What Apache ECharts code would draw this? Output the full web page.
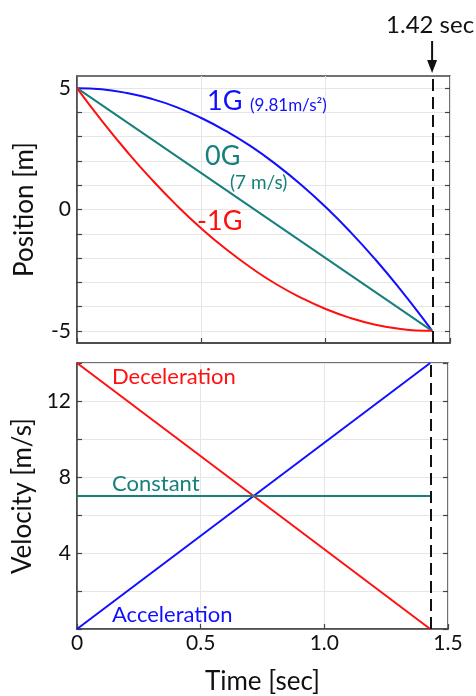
<!DOCTYPE html>
<html>
<head>
<meta charset="utf-8">
<script src="https://cdn.jsdelivr.net/npm/echarts@6/dist/echarts.min.js"></script>
<style>
  html, body { margin: 0; padding: 0; background: #fff; }
  #chart { width: 476px; height: 696px; }
</style>
</head>
<body>
<div id="chart"></div>
<script>
// time samples
const timeSteps = [0, 0.1, 0.2, 0.3, 0.4, 0.5, 0.6, 0.7, 0.8, 0.9, 1.0, 1.1, 1.2, 1.3, 1.4, 1.428];
const pos1G = [5, 4.95, 4.8, 4.56, 4.22, 3.77, 3.23, 2.6, 1.86, 1.03, 0.1, -0.93, -2.06, -3.29, -4.61, -5];
const posMinus1G = [5, 3.65, 2.4, 1.24, 0.18, -0.78, -1.64, -2.4, -3.07, -3.63, -4.1, -4.47, -4.75, -4.92, -5, -5];
const lineTimes = [0, 1.428];
const pos0G = [5, -5];
const velAccel = [0, 14];
const velDecel = [14, 0];
const velConst = [7, 7];
const tEnd = 1.428;
const xTicks = [0, 0.5, 1.0, 1.5];
const posTicks = [-5, -4, -3, -2, -1, 0, 1, 2, 3, 4, 5];
const posLabels = [-5, 0, 5];
const velTicks = [0, 2, 4, 6, 8, 10, 12, 14];
const velLabels = [4, 8, 12];

const BLUE = '#1010ff', RED = '#ff1010', TEAL = '#17807e';
const FONT = 'Lato';

function pairs(xs, ys) {
    return xs.map((x, i) => [x, ys[i]]);
}

const myChart = echarts.init(document.getElementById('chart'));

const boxStyle = { show: true, borderColor: '#444', borderWidth: 1.5, backgroundColor: 'transparent' };
const gridLine = { show: true, lineStyle: { color: '#e6e6e6', width: 1 } };
function tickIn(values) {
    return { show: true, inside: true, length: 5, customValues: values, lineStyle: { color: '#444', width: 1.2 } };
}

function yAxisPair(gridIndex, min, max, ticks, labels, name) {
    return [{
        type: 'value', gridIndex: gridIndex, min: min, max: max,
        position: 'left',
        axisLine: { show: true, onZero: false, lineStyle: { color: '#444', width: 1.5 } },
        axisTick: tickIn(ticks),
        splitLine: gridLine,
        axisLabel: {
            customValues: labels,
            fontFamily: FONT, fontSize: 21, color: '#111', margin: 6
        },
        name: name, nameLocation: 'middle', nameGap: 39, nameRotate: 90,
        nameTextStyle: { fontFamily: FONT, fontSize: 26, color: '#111' }
    }, {
        type: 'value', gridIndex: gridIndex, min: min, max: max,
        position: 'right',
        axisLine: { show: false, onZero: false },
        axisTick: tickIn(ticks),
        splitLine: { show: false },
        axisLabel: { show: false }
    }];
}

const dashMark = {
    silent: true,
    symbol: 'none',
    label: { show: false },
    lineStyle: { color: '#111', width: 2, type: [12, 6] },
    data: [{ xAxis: tEnd }]
};

myChart.setOption({
    animation: false,
    grid: [
        Object.assign({ left: 77, top: 76, width: 373, height: 267 }, boxStyle),
        Object.assign({ left: 77, top: 363, width: 371, height: 267 }, boxStyle)
    ],
    xAxis: [
        {
            type: 'value', gridIndex: 0, min: 0, max: 1.5, interval: 0.5,
            axisLine: { show: true, onZero: false, lineStyle: { color: '#444', width: 1.5 } },
            axisTick: tickIn(xTicks), splitLine: gridLine, axisLabel: { show: false }
        },
        {
            type: 'value', gridIndex: 1, min: 0, max: 1.5, interval: 0.5,
            axisLine: { show: true, onZero: false, lineStyle: { color: '#444', width: 1.5 } },
            axisTick: tickIn(xTicks), splitLine: gridLine,
            axisLabel: {
                fontFamily: FONT, fontSize: 21, color: '#111', margin: 4,
                formatter: v => v === 0 ? '0' : v.toFixed(1)
            },
            name: 'Time [sec]', nameLocation: 'middle', nameGap: 40,
            nameTextStyle: { fontFamily: FONT, fontSize: 26, color: '#111' }
        }
    ],
    yAxis: [].concat(
        yAxisPair(0, -5.5, 5.5, posTicks, posLabels, 'Position [m]'),
        yAxisPair(1, 0, 14, velTicks, velLabels, 'Velocity [m/s]')
    ),
    series: [
        { type: 'line', name: '1G', xAxisIndex: 0, yAxisIndex: 0, data: pairs(timeSteps, pos1G),
          smooth: true, showSymbol: false, lineStyle: { color: BLUE, width: 2 } },
        { type: 'line', name: '0G', xAxisIndex: 0, yAxisIndex: 0, data: pairs(lineTimes, pos0G),
          showSymbol: false, lineStyle: { color: TEAL, width: 2 } },
        { type: 'line', name: '-1G', xAxisIndex: 0, yAxisIndex: 0, data: pairs(timeSteps, posMinus1G),
          smooth: true, showSymbol: false, lineStyle: { color: RED, width: 2 }, markLine: dashMark },
        { type: 'line', name: 'Acceleration', xAxisIndex: 1, yAxisIndex: 2, data: pairs(lineTimes, velAccel),
          showSymbol: false, lineStyle: { color: BLUE, width: 2 } },
        { type: 'line', name: 'Deceleration', xAxisIndex: 1, yAxisIndex: 2, data: pairs(lineTimes, velDecel),
          showSymbol: false, lineStyle: { color: RED, width: 2 } },
        { type: 'line', name: 'Constant', xAxisIndex: 1, yAxisIndex: 2, data: pairs(lineTimes, velConst),
          showSymbol: false, lineStyle: { color: TEAL, width: 2 }, markLine: dashMark }
    ]
});

// annotations, placed from the axis scales
const endX = myChart.convertToPixel({ xAxisIndex: 0 }, tEnd);
function txt(x, y, text, color, size, align) {
    return { type: 'text', x: x, y: y, z: 10,
        style: { text: text, fill: color, font: size + 'px ' + FONT, textAlign: align || 'left', textVerticalAlign: 'middle' } };
}
myChart.setOption({
    graphic: [
        txt(207, 101, '1G', BLUE, 27),
        txt(250, 106, '(9.81m/s²)', BLUE, 17),
        txt(205, 156, '0G', TEAL, 27),
        txt(230, 183, '(7 m/s)', TEAL, 19),
        txt(197, 221, '-1G', RED, 27),
        txt(112, 377, 'Deceleration', RED, 22),
        txt(112, 484, 'Constant', TEAL, 22),
        txt(112, 615, 'Acceleration', BLUE, 22),
        txt(endX - 2, 25, '1.42 sec', '#111', 24, 'center'),
        { type: 'line', z: 10, shape: { x1: endX, y1: 41, x2: endX, y2: 62 }, style: { stroke: '#111', lineWidth: 2 } },
        { type: 'polygon', z: 10, shape: { points: [[endX - 5, 60], [endX + 5, 60], [endX, 73]] }, style: { fill: '#111' } }
    ]
});
</script>
</body>
</html>
